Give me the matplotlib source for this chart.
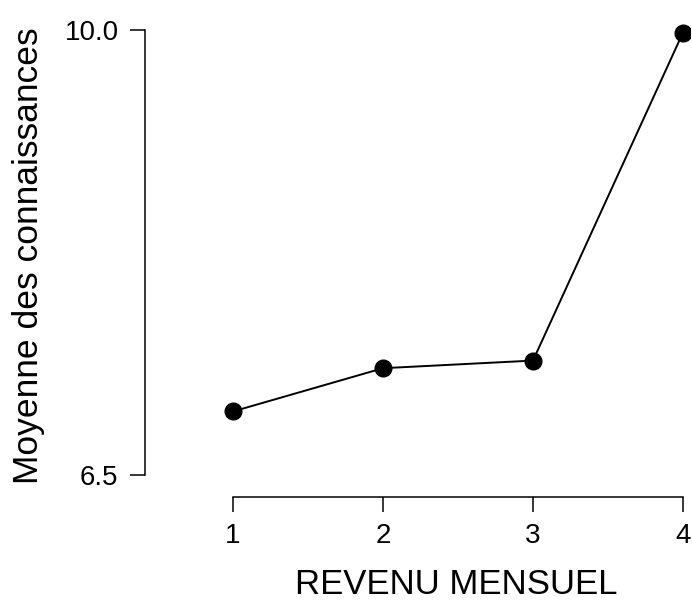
import matplotlib
matplotlib.use('Agg')
import matplotlib.pyplot as plt

revenu = [1, 2, 3, 4]
moyenne = [7.0, 7.34, 7.40, 9.98]
y_ticks = [6.5, 10.0]
y_tick_labels = ['6.5', '10.0']

plt.rcParams['font.family'] = ['Liberation Sans', 'DejaVu Sans']

fig = plt.figure(figsize=(6.92, 6.03), dpi=100)
ax = fig.add_axes([145 / 692, 1 - 497 / 603, 545 / 692, 477 / 603])

ax.plot(revenu, moyenne, color='black', linewidth=1.4,
        marker='o', markersize=12, markerfacecolor='black', markeredgecolor='black')

ax.set_xlim(0.4133, 4.0467)
ax.set_ylim(6.327, 10.0787)

# R-style detached axes
for side in ('top', 'right'):
    ax.spines[side].set_visible(False)
ax.spines['left'].set_bounds(6.5, 10.0)
ax.spines['bottom'].set_bounds(1, 4)
for side in ('left', 'bottom'):
    ax.spines[side].set_linewidth(1.1)

ax.set_xticks(revenu)
ax.set_xticklabels([str(v) for v in revenu])
ax.set_yticks(y_ticks)
ax.set_yticklabels(y_tick_labels)
ax.tick_params(axis='both', length=11, width=1.1, labelsize=20, pad=8, colors='black')

ax.set_xlabel('REVENU MENSUEL', fontsize=25)
ax.set_ylabel('Moyenne des connaissances', fontsize=25.5)
ax.xaxis.label.set_va('center')
ax.yaxis.label.set_va('center')
ax.xaxis.set_label_coords((456 - 145) / 545, (497 - 584) / 477)
ax.yaxis.set_label_coords((29 - 145) / 545, (497 - 256) / 477)

fig.savefig('out.png', dpi=100)
